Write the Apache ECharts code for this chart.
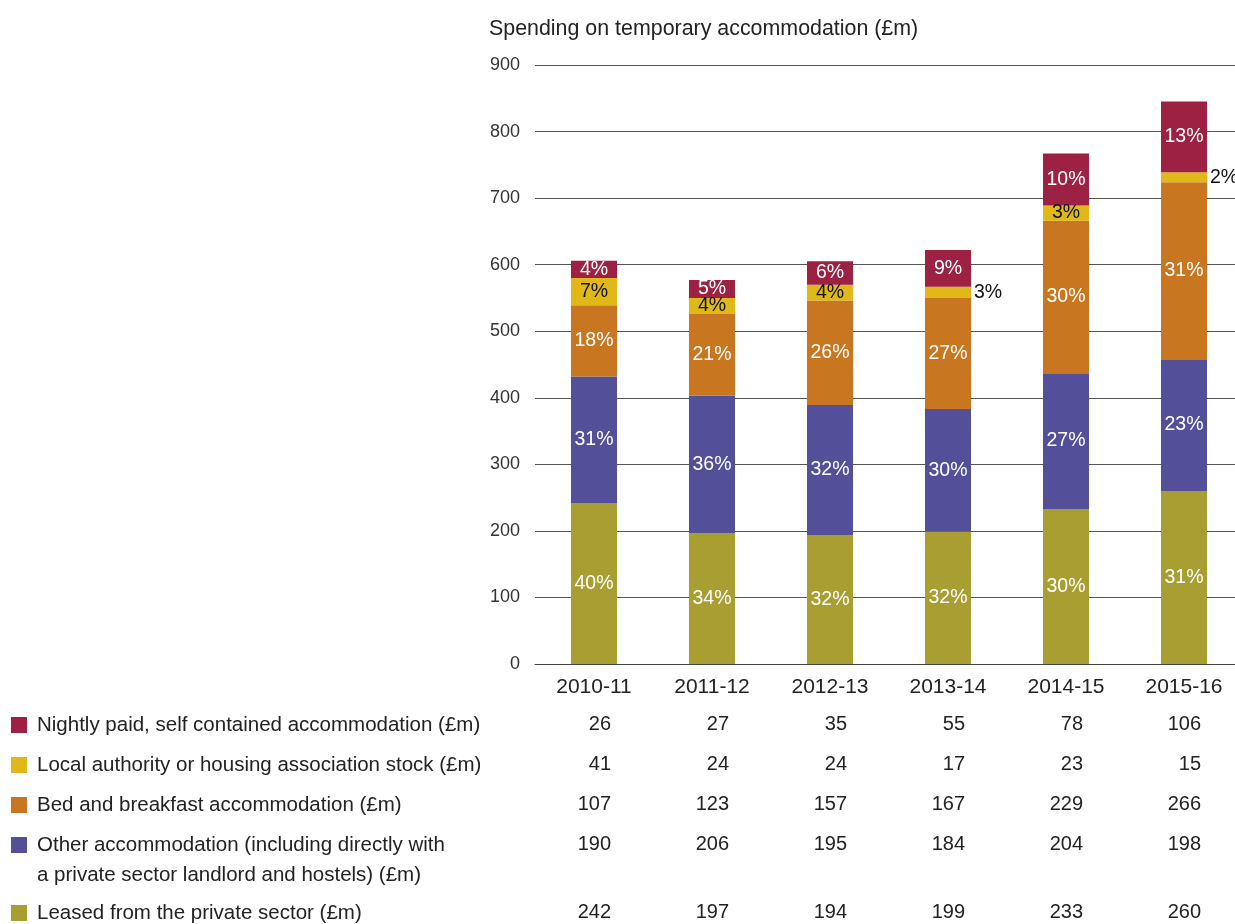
<!DOCTYPE html>
<html lang="en">
<head>
    <meta charset="UTF-8"/>
    <title>Spending on temporary accommodation</title>
    <script src="https://cdn.jsdelivr.net/npm/echarts@6/dist/echarts.min.js"></script>
    <style>
        html, body {
            margin: 0;
            padding: 0;
            background: #fff;
            overflow: hidden;
        }

        #chart {
            width: 1250px;
            height: 924px;
        }
    </style>
</head>
<body>
<div id="chart"></div>
<script>
    const years = ['2010-11', '2011-12', '2012-13', '2013-14', '2014-15', '2015-16'];

    // £m
    const nightlyPaid = [26, 27, 35, 55, 78, 106];
    const localAuthority = [41, 24, 24, 17, 23, 15];
    const bedBreakfast = [107, 123, 157, 167, 229, 266];
    const otherAccom = [190, 206, 195, 184, 204, 198];
    const leased = [242, 197, 194, 199, 233, 260];

    const seriesNames = [
        'Nightly paid, self contained accommodation (£m)',
        'Local authority or housing association stock (£m)',
        'Bed and breakfast accommodation (£m)',
        'Other accommodation (including directly with\na private sector landlord and hostels) (£m)',
        'Leased from the private sector (£m)'
    ];
    const seriesValues = [nightlyPaid, localAuthority, bedBreakfast, otherAccom, leased];
    const colors = ['#9c2142', '#e0b817', '#c87720', '#534f99', '#a89e31'];

    const FONT = '"Liberation Sans", Arial, sans-serif';
    const totals = years.map((y, i) => seriesValues.reduce((s, arr) => s + arr[i], 0));

    // stacked from the bottom: leased first, nightly paid on top
    const stackOrder = [4, 3, 2, 1, 0];
    const series = stackOrder.map(k => ({
        name: seriesNames[k],
        type: 'bar',
        stack: 'total',
        barWidth: 46,
        itemStyle: {color: colors[k]},
        data: seriesValues[k].map((v, i) => {
            const small = v < 20;
            return {
                value: v,
                label: {
                    show: true,
                    position: small ? 'right' : 'inside',
                    distance: 3,
                    color: (k === 1 || small) ? '#111' : '#fff',
                    fontSize: 19.5,
                    fontFamily: FONT,
                    formatter: () => Math.round(v / totals[i] * 100) + '%'
                }
            };
        })
    }));

    // value rows of the table, drawn as extra category axes under the grid
    const tableOffsets = [37, 77, 117, 157, 225];
    const tableAxes = seriesValues.map((arr, k) => ({
        type: 'category',
        data: years,
        position: 'bottom',
        offset: tableOffsets[k],
        axisLine: {show: false},
        axisTick: {show: false},
        splitLine: {show: false},
        axisLabel: {
            margin: 13,
            interval: 0,
            formatter: (v, i) => '{v|' + arr[i] + '}',
            rich: {
                v: {width: 34, align: 'right', fontSize: 20, color: '#222', fontFamily: FONT}
            }
        }
    }));

    // legend rows at the left of the table
    const legendItems = [];
    let rowY = 725;
    seriesNames.forEach((name, k) => {
        const lines = name.split('\n').length;
        legendItems.push({
            type: 'rect',
            shape: {x: 11, y: rowY - 8, width: 16, height: 16},
            style: {fill: colors[k]}
        });
        legendItems.push({
            type: 'text',
            x: 37,
            y: rowY,
            style: {
                text: name,
                fill: '#222',
                font: '20.5px ' + FONT,
                lineHeight: 30,
                verticalAlign: 'top',
                y: -15
            }
        });
        rowY += 40 + (lines - 1) * 28;
    });

    const chart = echarts.init(document.getElementById('chart'));
    chart.setOption({
        animation: false,
        textStyle: {fontFamily: FONT},
        title: {
            text: 'Spending on temporary accommodation (£m)',
            left: 484,
            top: 14,
            textStyle: {fontSize: 21.4, fontWeight: 'normal', color: '#222', fontFamily: FONT}
        },
        grid: {left: 535, top: 65, width: 708, height: 599, outerBoundsMode: 'none'},
        xAxis: [{
            type: 'category',
            data: years,
            axisLine: {show: true, lineStyle: {color: '#444', width: 1.2}},
            axisTick: {show: false},
            axisLabel: {margin: 13, fontSize: 21, color: '#222', fontFamily: FONT}
        }].concat(tableAxes),
        yAxis: {
            type: 'value',
            min: 0,
            max: 900,
            interval: 100,
            axisLine: {show: false},
            axisTick: {show: false},
            axisLabel: {margin: 15, fontSize: 18, color: '#333', fontFamily: FONT},
            splitLine: {lineStyle: {color: '#555', width: 1.2}}
        },
        graphic: legendItems,
        series: series
    });
</script>
</body>
</html>
